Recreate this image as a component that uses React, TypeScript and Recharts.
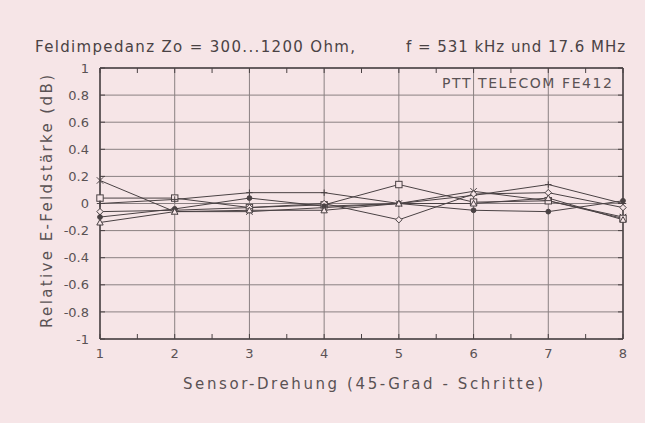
import React from 'react';
import { LineChart, Line, XAxis, YAxis, CartesianGrid } from 'recharts';

const steps = [1, 2, 3, 4, 5, 6, 7, 8];
const seriesCross = [0.17, -0.06, -0.06, -0.03, 0.0, 0.09, 0.02, -0.1];
const seriesSquare = [0.04, 0.04, -0.03, -0.01, 0.14, 0.01, 0.02, -0.11];
const seriesPlus = [0.0, 0.03, 0.08, 0.08, 0.0, 0.06, 0.14, 0.0];
const seriesDiamond = [-0.06, -0.05, -0.03, 0.0, -0.12, 0.07, 0.08, -0.03];
const seriesDot = [-0.1, -0.04, 0.04, -0.02, 0.0, -0.05, -0.06, 0.02];
const seriesTri = [-0.14, -0.06, -0.05, -0.05, 0.0, 0.0, 0.04, -0.12];

const yTicks = [-1, -0.8, -0.6, -0.4, -0.2, 0, 0.2, 0.4, 0.6, 0.8, 1];
const yTickLabels = ['-1', '-0.8', '-0.6', '-0.4', '-0.2', '0', '0.2', '0.4', '0.6', '0.8', '1'];
const yMinor = [-1, -0.95, -0.9, -0.85, -0.8, -0.75, -0.7, -0.65, -0.6, -0.55, -0.5, -0.45, -0.4, -0.35, -0.3, -0.25, -0.2, -0.15, -0.1, -0.05, 0, 0.05, 0.1, 0.15, 0.2, 0.25, 0.3, 0.35, 0.4, 0.45, 0.5, 0.55, 0.6, 0.65, 0.7, 0.75, 0.8, 0.85, 0.9, 0.95, 1];
const xMinor = [1, 1.5, 2, 2.5, 3, 3.5, 4, 4.5, 5, 5.5, 6, 6.5, 7, 7.5, 8];

const data = steps.map((s, i) => ({
  s,
  a: seriesCross[i],
  b: seriesSquare[i],
  c: seriesPlus[i],
  d: seriesDiamond[i],
  e: seriesDot[i],
  f: seriesTri[i],
}));

const INK = '#4a4244';
const BG = '#f6e5e7';
const FONT = '"DejaVu Sans", sans-serif';
const TL = 5;
const FRAME = { stroke: INK, strokeWidth: 1.5 };

const makeDot = (kind: string) => (props: any) => {
  const { cx, cy, index } = props;
  if (cx == null || cy == null) return <g key={index} />;
  const r = 3.2;
  const common = { stroke: INK, strokeWidth: 1, fill: 'none' };
  switch (kind) {
    case 'cross':
      return (
        <path key={index} d={`M${cx - r},${cy - r}L${cx + r},${cy + r}M${cx - r},${cy + r}L${cx + r},${cy - r}`} {...common} />
      );
    case 'square':
      return <rect key={index} x={cx - r} y={cy - r} width={2 * r} height={2 * r} {...common} fill={BG} />;
    case 'plus':
      return <path key={index} d={`M${cx - r},${cy}L${cx + r},${cy}M${cx},${cy - r}L${cx},${cy + r}`} {...common} />;
    case 'diamond':
      return <path key={index} d={`M${cx},${cy - r}L${cx + r},${cy}L${cx},${cy + r}L${cx - r},${cy}Z`} {...common} fill={BG} />;
    case 'dot':
      return <circle key={index} cx={cx} cy={cy} r={2.4} fill={INK} stroke={INK} />;
    default:
      return <path key={index} d={`M${cx},${cy - r}L${cx + r},${cy + r * 0.8}L${cx - r},${cy + r * 0.8}Z`} {...common} fill={BG} />;
  }
};

const tickLeft = (p: any) => <line x1={p.x} x2={p.x + TL} y1={p.y} y2={p.y} stroke={INK} strokeWidth={1} />;
const tickRight = (p: any) => <line x1={p.x} x2={p.x - TL} y1={p.y} y2={p.y} stroke={INK} strokeWidth={1} />;
const tickBottom = (p: any) => <line x1={p.x} x2={p.x} y1={p.y} y2={p.y - TL} stroke={INK} strokeWidth={1} />;
const tickTop = (p: any) => <line x1={p.x} x2={p.x} y1={p.y} y2={p.y + TL} stroke={INK} strokeWidth={1} />;

const series: [string, string][] = [
  ['a', 'cross'],
  ['b', 'square'],
  ['c', 'plus'],
  ['d', 'diamond'],
  ['e', 'dot'],
  ['f', 'tri'],
];

export default function App() {
  return (
    <div style={{ position: 'absolute', left: 0, top: 0, width: 645, height: 423, background: BG }}>
      <LineChart
        width={645}
        height={423}
        data={data}
        margin={{ top: 67, right: 21, left: 0, bottom: 53 }}
        style={{ position: 'absolute', left: 0, top: 0 }}
      >
        <CartesianGrid
          stroke="#8a8082"
          strokeWidth={1}
          horizontalValues={yTicks}
          verticalValues={steps}
          xAxisId="main"
          yAxisId="main"
        />
        <XAxis
          xAxisId="mB"
          type="number"
          dataKey="s"
          domain={[1, 8]}
          ticks={xMinor}
          tick={tickBottom}
          tickLine={false}
          tickSize={0}
          tickMargin={0}
          height={1}
          axisLine={FRAME}
          allowDataOverflow
        />
        <XAxis
          xAxisId="main"
          type="number"
          dataKey="s"
          domain={[1, 8]}
          ticks={steps}
          tickLine={false}
          tickSize={0}
          tickMargin={9}
          height={30}
          axisLine={false}
          tick={{ fill: '#5a5254', fontSize: 13, fontFamily: FONT }}
        />
        <XAxis
          xAxisId="mT"
          orientation="top"
          type="number"
          dataKey="s"
          domain={[1, 8]}
          ticks={xMinor}
          tick={tickTop}
          tickLine={false}
          tickSize={0}
          tickMargin={0}
          height={1}
          axisLine={FRAME}
          allowDataOverflow
        />
        <YAxis
          yAxisId="mL"
          type="number"
          domain={[-1, 1]}
          ticks={yMinor}
          tick={tickLeft}
          tickLine={false}
          tickSize={0}
          tickMargin={0}
          width={1}
          axisLine={FRAME}
          allowDataOverflow
        />
        <YAxis
          yAxisId="main"
          type="number"
          domain={[-1, 1]}
          ticks={yTicks}
          tickFormatter={(v: number) => yTickLabels[yTicks.indexOf(v)] ?? String(v)}
          tickLine={false}
          tickSize={0}
          tickMargin={10}
          width={99}
          axisLine={false}
          tick={{ fill: '#5a5254', fontSize: 13, fontFamily: FONT }}
        />
        <YAxis
          yAxisId="mR"
          orientation="right"
          type="number"
          domain={[-1, 1]}
          ticks={yMinor}
          tick={tickRight}
          tickLine={false}
          tickSize={0}
          tickMargin={0}
          width={1}
          axisLine={FRAME}
          allowDataOverflow
        />
        <Line
          xAxisId="mB"
          yAxisId="mL"
          dataKey="a"
          stroke="none"
          dot={false}
          activeDot={false}
          isAnimationActive={false}
          legendType="none"
        />
        <Line
          xAxisId="mT"
          yAxisId="mR"
          dataKey="a"
          stroke="none"
          dot={false}
          activeDot={false}
          isAnimationActive={false}
          legendType="none"
        />
        {series.map(([key, kind]) => (
          <Line
            key={key}
            xAxisId="main"
            yAxisId="main"
            dataKey={key}
            stroke={INK}
            strokeWidth={1}
            dot={makeDot(kind)}
            activeDot={false}
            isAnimationActive={false}
            type="linear"
          />
        ))}
      </LineChart>
      <svg
        width={645}
        height={423}
        style={{ position: 'absolute', left: 0, top: 0, pointerEvents: 'none' }}
        fontFamily={FONT}
        fill="#4a4244"
      >
        <text x={35} y={52} fontSize={15} textLength={320} lengthAdjust="spacing">
          Feldimpedanz Zo = 300...1200 Ohm,
        </text>
        <text x={406} y={52} fontSize={15} textLength={219} lengthAdjust="spacing">
          f = 531 kHz und 17.6 MHz
        </text>
        <text x={442} y={88} fontSize={14} textLength={170} lengthAdjust="spacing" fill="#5a5254">
          PTT TELECOM FE412
        </text>
        <text
          x={0}
          y={0}
          fontSize={15}
          textLength={253}
          lengthAdjust="spacing"
          fill="#5a5254"
          transform="translate(52,328) rotate(-90)"
        >
          Relative E-Feldstärke (dB)
        </text>
        <text x={183} y={389} fontSize={15} textLength={360} lengthAdjust="spacing" fill="#5a5254">
          Sensor-Drehung (45-Grad - Schritte)
        </text>
      </svg>
    </div>
  );
}
